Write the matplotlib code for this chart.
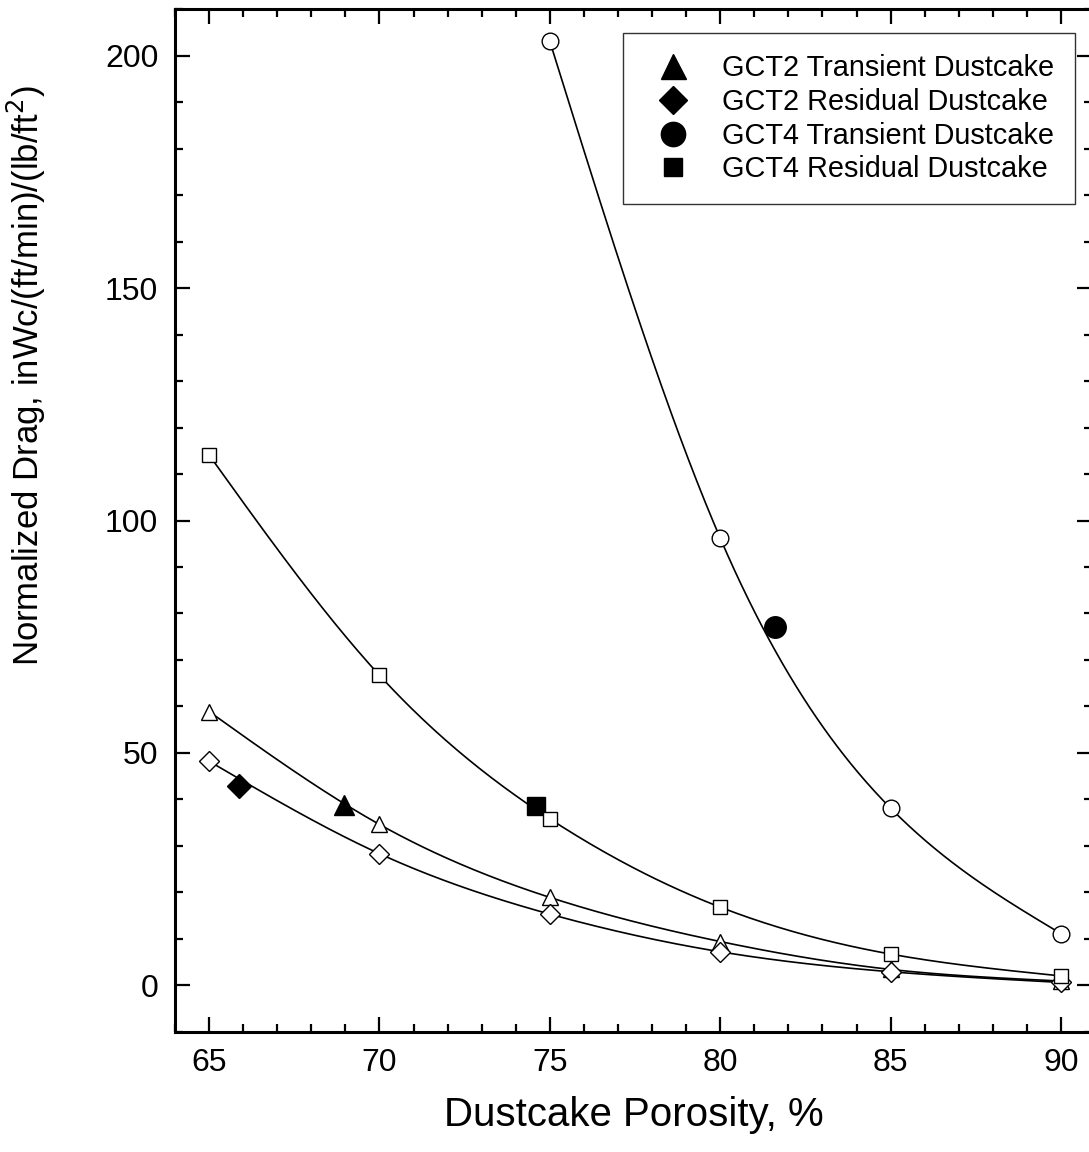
import numpy as np
import matplotlib.pyplot as plt
from matplotlib.lines import Line2D

plt.rcParams['font.family'] = ['Liberation Sans', 'DejaVu Sans']

# model curves (open symbols)
porosity = [65, 70, 75, 80, 85, 90]
gct2_transient_model = [58.9, 34.6, 18.9, 9.4, 3.4, 0.9]
gct2_residual_model = [48.2, 28.3, 15.3, 7.2, 2.9, 0.6]
gct4_residual_model = [114.1, 66.7, 35.8, 16.8, 6.7, 2.0]
gct4_porosity = [75, 80, 85, 90]
gct4_transient_model = [203.1, 96.2, 38.1, 11.1]

# measured dustcakes (filled symbols)
meas_labels = ["GCT2 Transient Dustcake", "GCT2 Residual Dustcake",
               "GCT4 Transient Dustcake", "GCT4 Residual Dustcake"]
meas_x = [68.97, 65.88, 81.6, 74.6]
meas_y = [38.7, 42.9, 77.1, 38.5]
meas_markers = ["^", "D", "o", "s"]
meas_sizes = [14.5, 12.5, 15.5, 13]
legend_sizes = [18, 14, 17.5, 12.5]


def smooth(x, y, n=300):
    # natural cubic spline through the points
    x = np.asarray(x, float)
    y = np.asarray(y, float)
    k = len(x)
    h = np.diff(x)
    A = np.zeros((k, k))
    r = np.zeros(k)
    A[0, 0] = 1
    A[-1, -1] = 1
    for i in range(1, k - 1):
        A[i, i - 1] = h[i - 1]
        A[i, i] = 2 * (h[i - 1] + h[i])
        A[i, i + 1] = h[i]
        r[i] = 3 * ((y[i + 1] - y[i]) / h[i] - (y[i] - y[i - 1]) / h[i - 1])
    c = np.linalg.solve(A, r)
    b = (y[1:] - y[:-1]) / h - h * (2 * c[:-1] + c[1:]) / 3
    d = (c[1:] - c[:-1]) / (3 * h)
    xs = np.linspace(x[0], x[-1], n)
    idx = np.clip(np.searchsorted(x, xs, side="right") - 1, 0, k - 2)
    t = xs - x[idx]
    ys = y[idx] + b[idx] * t + c[idx] * t ** 2 + d[idx] * t ** 3
    return xs, ys


fig = plt.figure(figsize=(10.89, 11.52), dpi=100)
ax = fig.add_axes([175 / 1089, 1 - 1031.7 / 1152, 917 / 1089, 1022.4 / 1152])

# filled measured points
for x, y, m, s in zip(meas_x, meas_y, meas_markers, meas_sizes):
    ax.plot(x, y, marker=m, ms=s, color="black", ls="none", zorder=2)

curves = [
    (porosity, gct2_transient_model, "^", 12),
    (porosity, gct2_residual_model, "D", 10),
    (porosity, gct4_residual_model, "s", 10.3),
    (gct4_porosity, gct4_transient_model, "o", 12),
]
for xv, yv, m, s in curves:
    xs, ys = smooth(xv, yv)
    ax.plot(xs, ys, color="black", lw=1.2, zorder=3)
    ax.plot(xv, yv, marker=m, ms=s, mfc="white", mec="black", mew=1.0,
            ls="none", zorder=4)

ax.set_xlim(64, 90.91)
ax.set_ylim(-10, 210)
ax.set_xticks([65, 70, 75, 80, 85, 90])
ax.set_xticks(np.arange(64, 91, 1), minor=True)
ax.set_yticks([0, 50, 100, 150, 200])
ax.set_yticks(np.arange(-10, 211, 10), minor=True)
ax.tick_params(which="both", direction="in", top=True, right=True,
               width=1.6, labelsize=23)
ax.tick_params(which="major", length=11, pad=12)
ax.tick_params(which="minor", length=5.5)
for sp in ax.spines.values():
    sp.set_linewidth(2.2)

ax.set_xlabel("Dustcake Porosity, %", fontsize=29, labelpad=13)
ax.set_ylabel("Normalized Drag, inWc/(ft/min)/(lb/ft$^2$)", fontsize=25)
ax.yaxis.set_label_coords(-0.138, 0.642)

handles = [Line2D([], [], marker=m, ms=s, color="black", ls="none")
           for m, s in zip(meas_markers, legend_sizes)]
leg = ax.legend(handles, meas_labels, loc="upper right",
                bbox_to_anchor=(0.981, 0.9765), borderaxespad=0,
                fontsize=20.8, frameon=True, fancybox=False,
                labelspacing=0.2, handletextpad=0.68, borderpad=0.72)
leg.get_frame().set_edgecolor("black")
leg.get_frame().set_linewidth(1.0)

fig.savefig("out.png", dpi=100)
